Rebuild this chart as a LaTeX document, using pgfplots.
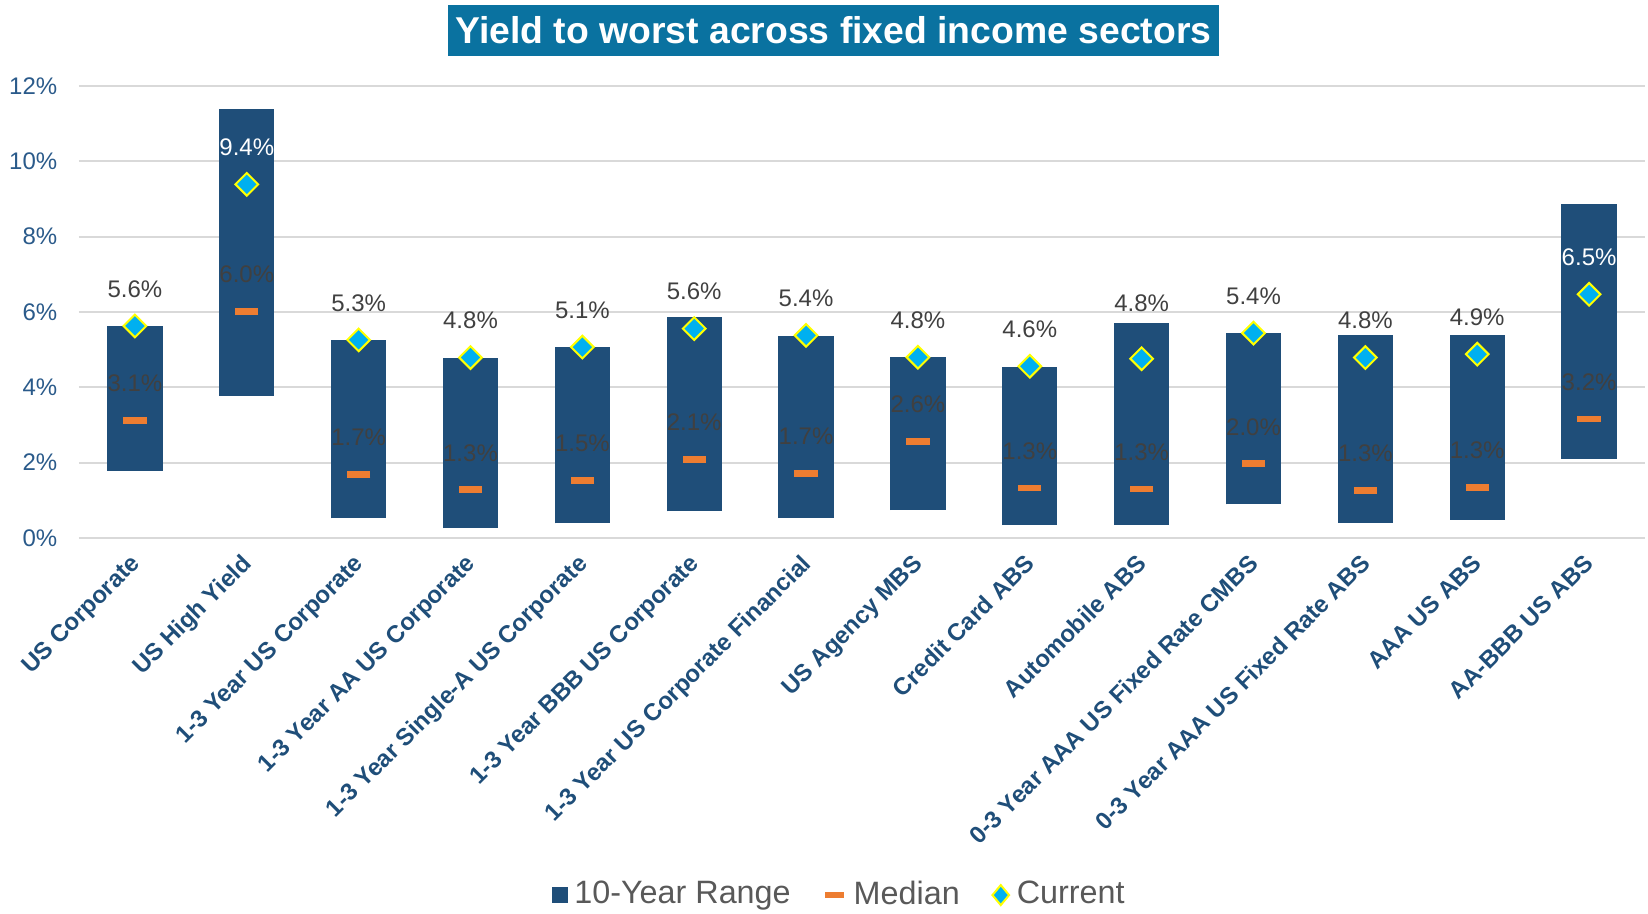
\documentclass[border=0pt]{standalone}
\usepackage{fontspec}
\setmainfont{Liberation Sans}
\usepackage{pgfplots}
\usepackage{pgfplotstable}
\pgfplotsset{compat=1.18}
\definecolor{barblue}{HTML}{1F4E79}
\definecolor{medorange}{HTML}{ED7D31}
\definecolor{curblue}{HTML}{00B0F0}
\definecolor{curedge}{HTML}{FFFF00}
\definecolor{titlebg}{HTML}{0A72A0}
\definecolor{labgray}{HTML}{404040}
\definecolor{leggray}{HTML}{595959}
\definecolor{gridgray}{HTML}{D9D9D9}
\definecolor{ticklab}{HTML}{2A5A8A}

\pgfplotstableread{
x low high median current cshift wf
0 1.78 5.63 3.12 5.63 11.1 0
1 3.78 11.38 6.02 9.39 11.1 100
2 0.52 5.25 1.68 5.26 11.1 0
3 0.26 4.79 1.28 4.79 11.1 0
4 0.39 5.07 1.52 5.07 11.1 0
5 0.71 5.87 2.09 5.56 11.1 0
6 0.53 5.36 1.71 5.38 11.1 0
7 0.74 4.80 2.56 4.80 11.1 0
8 0.34 4.55 1.33 4.56 11.1 0
9 0.35 5.70 1.30 4.76 16.5 0
10 0.89 5.44 1.97 5.44 11.1 0
11 0.40 5.39 1.27 4.79 11.1 0
12 0.49 5.38 1.34 4.88 11.1 0
13 2.11 8.86 3.16 6.47 11.1 100
}\data

\begin{document}
\begin{tikzpicture}
\useasboundingbox (-23.7pt,-112.5pt) rectangle (470.7pt,161.4pt);
\node[fill=titlebg, text=white, font=\bfseries\fontsize{11.2}{13}\selectfont,
      inner xsep=2.4pt, inner ysep=0pt, minimum height=15.3pt, anchor=center]
      at (226.35pt,152.25pt) {Yield to worst across fixed income sectors};
\begin{axis}[
  at={(0pt,0pt)}, anchor=south west,
  scale only axis, width=469.8pt, height=135.6pt,
  xmin=-0.5, xmax=13.5, ymin=0, ymax=12,
  clip=false,
  axis line style={draw=none}, major tick length=0pt,
  ytick={0,2,...,12}, ymajorgrids,
  major grid style={gridgray, line width=0.6pt},
  /pgf/number format/assume math mode=true,
  yticklabel={\pgfmathprintnumber{\tick}\%},
  yticklabel style={text=ticklab, font=\fontsize{7.2}{8}\selectfont, xshift=-3pt},
  xtick={0,...,13},
  xticklabels={US Corporate, US High Yield, 1-3 Year US Corporate, 1-3 Year AA US Corporate,
    1-3 Year Single-A US Corporate, 1-3 Year BBB US Corporate, 1-3 Year US Corporate Financial,
    US Agency MBS, Credit Card ABS, Automobile ABS, 0-3 Year AAA US Fixed Rate CMBS,
    0-3 Year AAA US Fixed Rate ABS, AAA US ABS, AA-BBB US ABS},
  xticklabel style={text=barblue, font=\bfseries\fontsize{7.2}{8}\selectfont,
    rotate=45, anchor=north east, inner sep=1pt, yshift=-0.67pt, xshift=-3.3pt},
  legend style={at={(axis description cs:0.487,-0.790)}, anchor=center, draw=none, fill=none,
    legend columns=-1, font=\fontsize{9.7}{11}\selectfont, text=leggray,
    /tikz/every even column/.append style={column sep=7.5pt},
    legend cell align=left, inner sep=0pt},
]
% 10-year range (floating bars from low to high)
\addplot[draw=none, mark=none,
  legend image code/.code={\fill[barblue] (0.6pt,-2.35pt) rectangle (5.3pt,2.35pt);},
  error bars/.cd, y dir=plus, y explicit, error mark=none,
  error bar style={line width=16.6pt, draw=barblue}]
  table[x=x, y=low, y error expr=\thisrow{high}-\thisrow{low}] {\data};
\addlegendentry{10-Year Range}
% median
\addplot[only marks, color=medorange, mark=-, mark size=3.5pt,
  mark options={line width=2pt, draw=medorange},
  legend image code/.code={\draw[medorange, line width=1.8pt] (0pt,0pt) -- (5.6pt,0pt);}]
  table[x=x, y=median] {\data};
\addlegendentry{Median}
% current
\addplot[only marks, mark=square*, mark size=2.4pt,
  mark options={rotate=45, fill=curblue, draw=curedge, line width=0.6pt},
  legend image code/.code={\draw[curedge, fill=curblue, line width=0.6pt]
     (0pt,0pt) -- (2.5pt,-3pt) -- (5pt,0pt) -- (2.5pt,3pt) -- cycle;}]
  table[x=x, y=current] {\data};
\addlegendentry{Current}
% labels: median
\addplot[forget plot, draw=none, mark=none, point meta=y,
  nodes near coords={\pgfmathprintnumber[fixed,fixed zerofill,precision=1]{\pgfplotspointmeta}\%},
  every node near coord/.append style={anchor=center, yshift=11.1pt, text=labgray,
     font=\fontsize{7.2}{8}\selectfont}]
  table[x=x, y=median] {\data};
% labels: current
\addplot[forget plot, draw=none, mark=none, point meta=y,
  visualization depends on={\thisrow{cshift}\as\cshift},
  visualization depends on={\thisrow{wf}\as\wf},
  nodes near coords={\pgfmathprintnumber[fixed,fixed zerofill,precision=1]{\pgfplotspointmeta}\%},
  every node near coord/.append style={anchor=center, yshift=\cshift pt, text=white!\wf!labgray,
     font=\fontsize{7.2}{8}\selectfont}]
  table[x=x, y=current] {\data};
\end{axis}
\end{tikzpicture}
\end{document}
